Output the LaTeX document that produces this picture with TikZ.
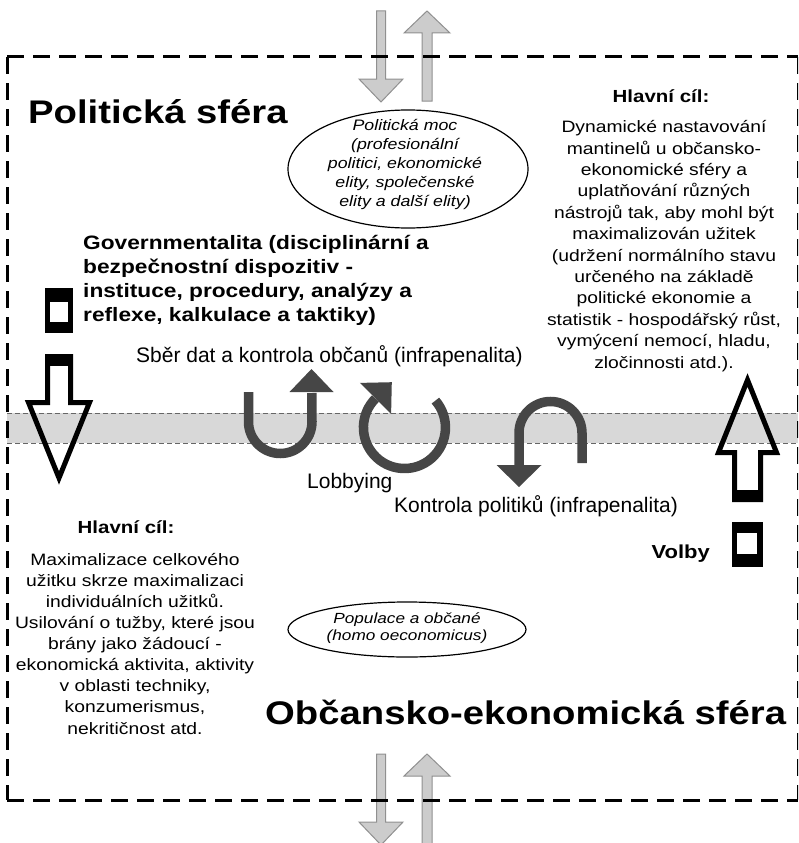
\documentclass[tikz,border=0pt]{standalone}
\usepackage{fontspec}
\setmainfont{Liberation Sans}
\newfontfamily\wide[FakeStretch=1.17]{Liberation Sans}
\usetikzlibrary{shapes.geometric}
\definecolor{arrowdark}{HTML}{464646}
\definecolor{graylight}{HTML}{CCCCCC}
\definecolor{grayline}{HTML}{909090}
\definecolor{bandgray}{HTML}{D8D8D8}
\newcommand\setfs[2]{\fontsize{#1}{#2}\selectfont}
\begin{document}
\begin{tikzpicture}[x=1pt,y=1pt,
  frame/.style={line width=3pt, dash pattern=on 17pt off 9pt},
  bandline/.style={line width=0.8pt, dash pattern=on 5pt off 3pt, black!60},
  grayarrow/.style={fill=graylight, draw=grayline, line width=1pt, line join=miter},
  hollow/.style={draw=black, line width=5pt, line join=miter, miter limit=20},
  curve/.style={draw=arrowdark, line width=9.5pt},
  headfill/.style={fill=arrowdark},
  txt/.style={inner sep=0pt},
  oval/.style={ellipse, draw, line width=1.2pt, inner sep=0pt}
]
\useasboundingbox (0,0) rectangle (798,-843);
\clip (0,0) rectangle (798,-843);

% grey band
\fill[bandgray] (7,-413) rectangle (798,-443);
\draw[bandline] (7,-413) -- (798,-413);
\draw[bandline] (7,-443) -- (798,-443);

% grey arrows top
\draw[grayarrow] (376.5,-11) -- (385.5,-11) -- (385.5,-79) -- (403,-79) -- (381,-102) -- (359,-79) -- (376.5,-79) -- cycle;
\draw[grayarrow] (422,-101) -- (432,-101) -- (432,-33) -- (450,-33) -- (427,-11) -- (404,-33) -- (422,-33) -- cycle;
% grey arrows bottom
\begin{scope}[yshift=-743pt]
\draw[grayarrow] (376.5,-11) -- (385.5,-11) -- (385.5,-79) -- (403,-79) -- (381,-102) -- (359,-79) -- (376.5,-79) -- cycle;
\draw[grayarrow] (422,-101) -- (432,-101) -- (432,-33) -- (450,-33) -- (427,-11) -- (404,-33) -- (422,-33) -- cycle;
\end{scope}

% dashed frame
\draw[frame] (7,-57) -- (798,-57);
\draw[frame] (7,-800) -- (798,-800);
\draw[frame] (7,-57) -- (7,-800);
\draw[frame] (798,-57) -- (798,-800);

% left square and hollow arrow
\fill (45,-288) rectangle (73,-333);
\fill[white] (50,-302) rectangle (68,-322);
\draw[hollow] (47.5,-356.5) -- (70.5,-356.5) -- (70.5,-402.5) -- (89.5,-402.5) -- (59,-478) -- (28.5,-402.5) -- (47.5,-402.5) -- cycle;
\fill (45,-354) rectangle (73,-366);

% right hollow arrow and square
\draw[hollow] (747.5,-380) -- (776.5,-452.5) -- (760.5,-452.5) -- (760.5,-499.5) -- (734.5,-499.5) -- (734.5,-452.5) -- (718.5,-452.5) -- cycle;
\fill (732,-490) rectangle (763,-502);
\fill (732,-522) rectangle (763,-567);
\fill[white] (737,-533) rectangle (757,-554);

% curved arrows
\draw[curve] (248.5,-392) -- (248.5,-421.75) arc[start angle=180, end angle=360, radius=31.75] -- (311.75,-393);
\fill[headfill] (289.5,-392) -- (333.5,-392) -- (311.5,-369) -- cycle;
\draw[curve] (435.4,-400.6) arc[start angle=41, end angle=-225, radius=41];
\fill[headfill] (359.9,-382.9) -- (391.1,-414.1) -- (391.8,-382.2) -- cycle;
\draw[curve] (582,-463) -- (582,-433) arc[start angle=0, end angle=180, radius=31.5] -- (519,-466);
\fill[headfill] (496.5,-465) -- (541.5,-465) -- (519,-487) -- cycle;

% ellipses
\node[oval, minimum width=240pt, minimum height=118pt] (moc) at (408,-169) {};
\node[txt, anchor=base, align=center, font=\wide\itshape\setfs{15.2pt}{19pt}] (moctxt) at (405,-206)
  {Politická moc\\(profesionální\\politici, ekonomické\\elity, společenské\\elity a další elity)};
\node[oval, minimum width=238pt, minimum height=55pt] (pop) at (407,-629.5) {};
\node[txt, anchor=base, align=center, font=\wide\itshape\setfs{14.7pt}{17pt}] (poptxt) at (407,-640)
  {Populace a občané\\(homo oeconomicus)};

% titles
\node[txt, anchor=base west, font=\wide\bfseries\setfs{32.7pt}{36pt}] (pol) at (28,-123) {Politická sféra};
\node[txt, anchor=base west, font=\wide\bfseries\setfs{32.7pt}{36pt}] (obc) at (265,-724) {Občansko-ekonomická sféra};

% top right goal
\node[txt, anchor=base, font=\wide\bfseries\setfs{17.5pt}{21pt}] (hc1) at (661,-102) {Hlavní cíl:};
\node[txt, anchor=base, align=center, font=\wide\setfs{16.5pt}{21.4pt}] (goal1) at (664,-368)
  {Dynamické nastavování\\mantinelů u občansko-\\ekonomické sféry a\\uplatňování různých\\nástrojů tak, aby mohl být\\maximalizován užitek\\(udržení normálního stavu\\určeného na základě\\politické ekonomie a\\statistik - hospodářský růst,\\vymýcení nemocí, hladu,\\zločinnosti atd.).};

% governmentality
\node[txt, anchor=base west, align=left, font=\wide\bfseries\setfs{19.4pt}{23.7pt}] (gov) at (83,-321)
  {Governmentalita (disciplinární a\\bezpečnostní dispozitiv -\\instituce, procedury, analýzy a\\reflexe, kalkulace a taktiky)};

% lower left goal
\node[txt, anchor=base, font=\wide\bfseries\setfs{17.5pt}{21pt}] (hc2) at (126,-533) {Hlavní cíl:};
\node[txt, anchor=base, align=center, font=\wide\setfs{16.5pt}{21.1pt}] (goal2) at (135,-734)
  {Maximalizace celkového\\užitku skrze maximalizaci\\individuálních užitků.\\Usilování o tužby, které jsou\\brány jako žádoucí -\\ekonomická aktivita, aktivity\\v oblasti techniky,\\konzumerismus,\\nekritičnost atd.};

% labels
\node[txt, anchor=base west, font=\setfs{21pt}{24pt}] (sber) at (136,-362) {Sběr dat a kontrola občanů (infrapenalita)};
\node[txt, anchor=base west, font=\setfs{21pt}{24pt}] (lob) at (307,-488) {Lobbying};
\node[txt, anchor=base west, font=\setfs{21pt}{24pt}] (kon) at (394,-512) {Kontrola politiků (infrapenalita)};
\node[txt, anchor=base east, font=\wide\bfseries\setfs{18.8pt}{22pt}] (vol) at (710,-558) {Volby};
\end{tikzpicture}
\end{document}
